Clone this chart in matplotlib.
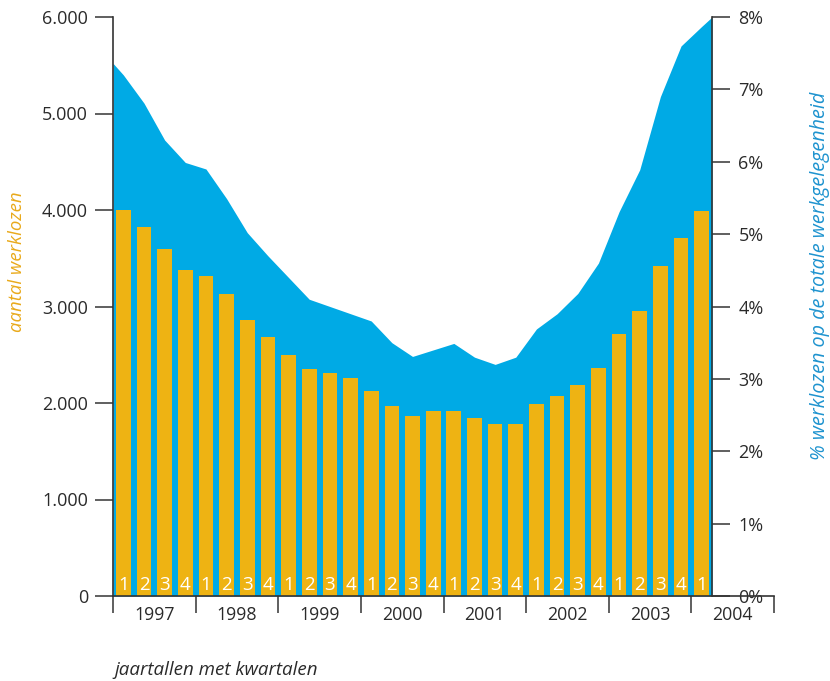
import numpy as np
import matplotlib
matplotlib.use("Agg")
import matplotlib.pyplot as plt
from matplotlib.ticker import FuncFormatter, FixedLocator

plt.rcParams['font.family'] = ['Open Sans', 'DejaVu Sans']

years = ["1997", "1998", "1999", "2000", "2001", "2002", "2003", "2004"]
quarters = ["1", "2", "3", "4"] * 7 + ["1"]
# aantal werklozen per kwartaal (1997 Q1 .. 2004 Q1)
werklozen = [4000, 3820, 3600, 3380, 3320, 3130, 2860, 2685,
             2500, 2350, 2310, 2260, 2125, 1970, 1865, 1915,
             1915, 1845, 1780, 1780, 1990, 2070, 2185, 2365,
             2715, 2955, 3420, 3710, 3990]
# % werklozen op de totale werkgelegenheid
perc = [7.20, 6.81, 6.30, 5.99, 5.90, 5.49, 5.02, 4.70,
        4.40, 4.10, 4.00, 3.90, 3.80, 3.50, 3.31, 3.40,
        3.49, 3.30, 3.20, 3.30, 3.69, 3.90, 4.18, 4.60,
        5.31, 5.89, 6.90, 7.60, 7.87]
perc_begin = 7.36   # waarde aan de linkerrand
perc_eind = 8.0     # waarde aan de rechterrand

oranje = "#EEB313"
blauw = "#00AAE5"
tekst = "#2a2a2a"

fig = plt.figure(figsize=(8.3, 6.81), dpi=100)
ax = fig.add_axes([113/830, 1-596/681, 661/830, 579/681])
ax2 = ax.twinx()

n = len(werklozen)
x = np.arange(n)

# blauwe vlak (percentage) op de rechter as
xa = np.concatenate([[-0.5], x, [n - 0.5]])
ya = np.concatenate([[perc_begin], perc, [perc_eind]])
ax2.fill_between(xa, 0, ya, color=blauw, lw=0)
ax2.set_ylim(0, 8)

# staven (aantallen) op de linker as, boven het vlak
ax.bar(x, werklozen, width=0.71, color=oranje, lw=0, zorder=2)
for i in range(n):
    ax.text(x[i], 112, quarters[i], color="white", fontsize=13.5,
            ha="center", va="center", zorder=3)
ax.set_zorder(ax2.get_zorder() + 1)
ax.patch.set_visible(False)

ax.set_xlim(-0.5, 31.5)
ax.set_ylim(0, 6000)
ax.set_yticks(np.arange(0, 6001, 1000))
ax.yaxis.set_major_formatter(FuncFormatter(lambda v, p: f"{int(v):,}".replace(",", ".")))

ax.xaxis.set_major_locator(FixedLocator([1.5 + 4 * k for k in range(len(years))]))
ax.set_xticklabels(years)
ax.xaxis.set_minor_locator(FixedLocator([-0.5 + 4 * k for k in range(len(years) + 1)]))
ax.tick_params(axis="x", which="major", length=0, pad=7, labelsize=12.8, labelcolor=tekst)
ax.tick_params(axis="x", which="minor", length=12.5, width=1.2, color="#444444")
ax.tick_params(axis="y", length=13, width=1.2, color="#444444", pad=5,
               labelsize=13, labelcolor=tekst)

for s in ["top", "right"]:
    ax.spines[s].set_visible(False)
for s in ["left", "bottom"]:
    ax.spines[s].set_color("#333333")
    ax.spines[s].set_linewidth(1.2)

for s in ["top", "left", "bottom"]:
    ax2.spines[s].set_visible(False)
ax2.spines["right"].set_position(("data", n - 0.5))
ax2.spines["right"].set_color("#333333")
ax2.spines["right"].set_linewidth(1.2)
ax2.set_yticks(np.arange(0, 9, 1))
ax2.set_yticklabels([f"{v}%" for v in range(9)])
ax2.tick_params(axis="y", length=13, width=1.2, color="#444444", pad=6,
                labelsize=13, labelcolor=tekst)

fig.text(17/830, 1-262/681, "aantal werklozen", rotation=90, color="#E9A91A",
         fontsize=13.4, style="italic", ha="center", va="center")
fig.text(820/830, 1-276/681, "% werklozen op de totale werkgelegenheid", rotation=90,
         color="#1E93CF", fontsize=14.2, style="italic", ha="center", va="center")
fig.text(114/830, 1-670/681, "jaartallen met kwartalen", color=tekst,
         fontsize=13.5, style="italic", ha="left", va="center")

plt.savefig("out.png", dpi=100, facecolor="white")
